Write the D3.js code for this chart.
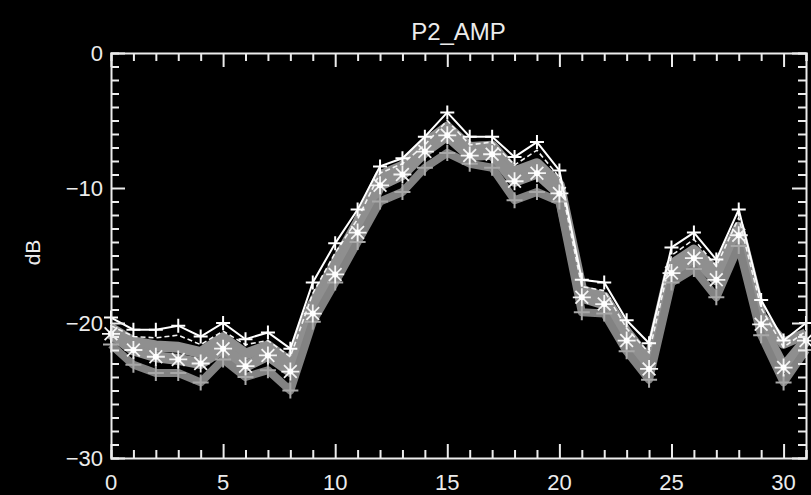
<!DOCTYPE html>
<meta charset="utf-8">
<style>
body { margin: 0; background: #000; }
svg { display: block; background: #000; }
.axis line, .axis path { stroke: #ececec; stroke-width: 2px; }
.lbl { fill: #ececec; font-family: "Liberation Sans", Arial, sans-serif; }
</style>
<body>
<script src="https://cdn.jsdelivr.net/npm/d3@7"></script>
<script>
const width = 811;
const height = 495;

const title = "P2_AMP";
const yTitle = "dB";
const xTicks = [0, 5, 10, 15, 20, 25, 30];
const yTicks = [0, -10, -20, -30];

const channels = d3.range(0, 32);

// white solid line with + symbols
const topSeries = [-19.6, -20.5, -20.5, -20.2, -21.0, -20.0, -21.2, -20.7, -21.9, -17.0, -14.1, -11.6, -8.4, -7.8, -6.2, -4.4,
    -6.2, -6.2, -7.7, -6.6, -8.7, -16.8, -17.0, -19.8, -21.5, -14.4, -13.3, -15.3, -11.6, -18.3, -21.3, -20.0];
// white dashed line
const dashSeries = [-20.2, -21.0, -21.1, -20.9, -21.6, -20.6, -21.6, -21.3, -22.5, -17.8, -14.8, -12.3, -8.9, -8.2, -6.8, -5.0,
    -6.8, -6.6, -8.3, -7.2, -9.2, -17.3, -17.6, -20.4, -22.2, -15.0, -13.8, -15.8, -12.2, -18.9, -21.8, -20.6];
// gray band, upper edge
const bandSeries = [-20.4, -21.4, -21.7, -21.8, -22.2, -21.1, -22.3, -21.7, -22.9, -18.6, -15.6, -12.6, -9.1, -8.4, -6.7, -5.5,
    -7.0, -6.9, -8.8, -8.2, -9.8, -17.6, -18.1, -20.7, -22.8, -15.7, -14.6, -16.2, -12.9, -19.5, -21.5, -20.8];
// gray band with asterisks
const midSeries = [-20.8, -22.0, -22.5, -22.7, -23.0, -21.9, -23.2, -22.4, -23.6, -19.3, -16.4, -13.3, -9.8, -9.0, -7.3, -6.1,
    -7.6, -7.5, -9.5, -8.9, -10.4, -18.1, -18.6, -21.3, -23.4, -16.3, -15.2, -16.8, -13.5, -20.1, -23.3, -21.3];
// gray + symbols below
const lowSeries = [-21.6, -23.1, -23.7, -23.7, -24.4, -22.7, -24.0, -23.5, -25.0, -19.9, -17.0, -14.0, -11.0, -10.3, -8.5, -7.4,
    -8.2, -8.5, -10.9, -10.3, -11.0, -19.2, -19.3, -22.1, -24.2, -17.0, -16.0, -18.1, -14.3, -20.9, -24.4, -22.0];

const margin = { top: 53, right: 5, bottom: 37, left: 111 };
const plotW = width - margin.left - margin.right;
const plotH = height - margin.top - margin.bottom;

const x = d3.scaleLinear().domain([0, 31]).range([0, plotW]);
const y = d3.scaleLinear().domain([-30, 0]).range([plotH, 0]);

const svg = d3.select("body").append("svg")
    .attr("width", width)
    .attr("height", height);

svg.append("text")
    .attr("class", "lbl")
    .attr("x", margin.left + plotW / 2)
    .attr("y", 40)
    .attr("text-anchor", "middle")
    .style("font-size", "24px")
    .text(title);

svg.append("text")
    .attr("class", "lbl")
    .attr("transform", "translate(40," + (margin.top + plotH / 2 - 3) + ") rotate(-90)")
    .attr("text-anchor", "middle")
    .style("font-size", "21px")
    .text(yTitle);

const g = svg.append("g")
    .attr("transform", "translate(" + margin.left + "," + margin.top + ")");

const plot = g.append("g");

function lineFor(values) {
    return d3.line()
        .x(function(d, i) { return x(channels[i]); })
        .y(function(d) { return y(d); })(values);
}

// gray band made of the three lower series
[bandSeries, midSeries, lowSeries].forEach(function(s, k) {
    plot.append("path")
        .attr("d", lineFor(s))
        .attr("fill", "none")
        .attr("stroke", k === 2 ? "#828282" : "#8f8f8f")
        .attr("stroke-width", k === 2 ? 8 : 11)
        .attr("stroke-linejoin", "round");
});

plot.append("path")
    .attr("d", lineFor(dashSeries))
    .attr("fill", "none")
    .attr("stroke", "#f2f2f2")
    .attr("stroke-width", 1.6)
    .attr("stroke-dasharray", "5,3");

plot.append("path")
    .attr("d", lineFor(topSeries))
    .attr("fill", "none")
    .attr("stroke", "#ffffff")
    .attr("stroke-width", 2);

function plusPath(r) {
    return "M" + (-r) + ",0H" + r + "M0," + (-r) + "V" + r;
}

function starPath(r) {
    const d = r * 0.7071;
    return plusPath(r) + "M" + (-d) + "," + (-d) + "L" + d + "," + d + "M" + (-d) + "," + d + "L" + d + "," + (-d);
}

// lower gray + symbols
plot.selectAll(".low").data(lowSeries).enter().append("path")
    .attr("class", "low")
    .attr("transform", function(d, i) { return "translate(" + x(channels[i]) + "," + y(d) + ")"; })
    .attr("d", plusPath(8))
    .attr("stroke", "#a8a8a8")
    .attr("stroke-width", 2)
    .attr("fill", "none");

// asterisks on the band
plot.selectAll(".star").data(midSeries).enter().append("path")
    .attr("class", "star")
    .attr("transform", function(d, i) { return "translate(" + x(channels[i]) + "," + y(d) + ")"; })
    .attr("d", starPath(9))
    .attr("stroke", "#f4f4f4")
    .attr("stroke-width", 1.8)
    .attr("fill", "none");

plot.selectAll(".glow").data(midSeries).enter().append("circle")
    .attr("class", "glow")
    .attr("cx", function(d, i) { return x(channels[i]); })
    .attr("cy", function(d) { return y(d); })
    .attr("r", 3)
    .attr("fill", "#fff");

// top white + symbols
plot.selectAll(".topmark").data(topSeries).enter().append("path")
    .attr("class", "topmark")
    .attr("transform", function(d, i) { return "translate(" + x(channels[i]) + "," + y(d) + ")"; })
    .attr("d", plusPath(7))
    .attr("stroke", "#ffffff")
    .attr("stroke-width", 2)
    .attr("fill", "none");

// axes: box with inward ticks on all sides
const fmt = function(d) { return d < 0 ? "\u2212" + Math.abs(d) : String(d); };

const xAxisBottom = g.append("g").attr("class", "axis")
    .attr("transform", "translate(0," + plotH + ")");
xAxisBottom.call(d3.axisBottom(x).tickValues(d3.range(0, 32)).tickSize(-8).tickFormat(""));
xAxisBottom.selectAll(".tick line").filter(function(d) { return d % 5 === 0; }).attr("y2", -14);

const xAxisTop = g.append("g").attr("class", "axis");
xAxisTop.call(d3.axisTop(x).tickValues(d3.range(0, 32)).tickSize(-8).tickFormat(""));
xAxisTop.selectAll(".tick line").filter(function(d) { return d % 5 === 0; }).attr("y2", 14);

const yAxisLeft = g.append("g").attr("class", "axis");
yAxisLeft.call(d3.axisLeft(y).tickValues(d3.range(-30, 1)).tickSize(-8).tickFormat(""));
yAxisLeft.selectAll(".tick line").filter(function(d) { return d % 10 === 0; }).attr("x2", 14);

const yAxisRight = g.append("g").attr("class", "axis")
    .attr("transform", "translate(" + plotW + ",0)");
yAxisRight.call(d3.axisRight(y).tickValues(d3.range(-30, 1)).tickSize(-8).tickFormat(""));
yAxisRight.selectAll(".tick line").filter(function(d) { return d % 10 === 0; }).attr("x2", -14);

g.selectAll(".axis path.domain").attr("stroke", "#ececec").attr("stroke-width", 2);

g.selectAll(".xlab").data(xTicks).enter().append("text")
    .attr("class", "lbl")
    .attr("x", function(d) { return x(d); })
    .attr("y", plotH + 32)
    .attr("text-anchor", "middle")
    .style("font-size", "22px")
    .text(fmt);

g.selectAll(".ylab").data(yTicks).enter().append("text")
    .attr("class", "lbl")
    .attr("x", -8)
    .attr("y", function(d) { return y(d) + 8; })
    .attr("text-anchor", "end")
    .style("font-size", "22px")
    .text(fmt);
</script>
</body>
